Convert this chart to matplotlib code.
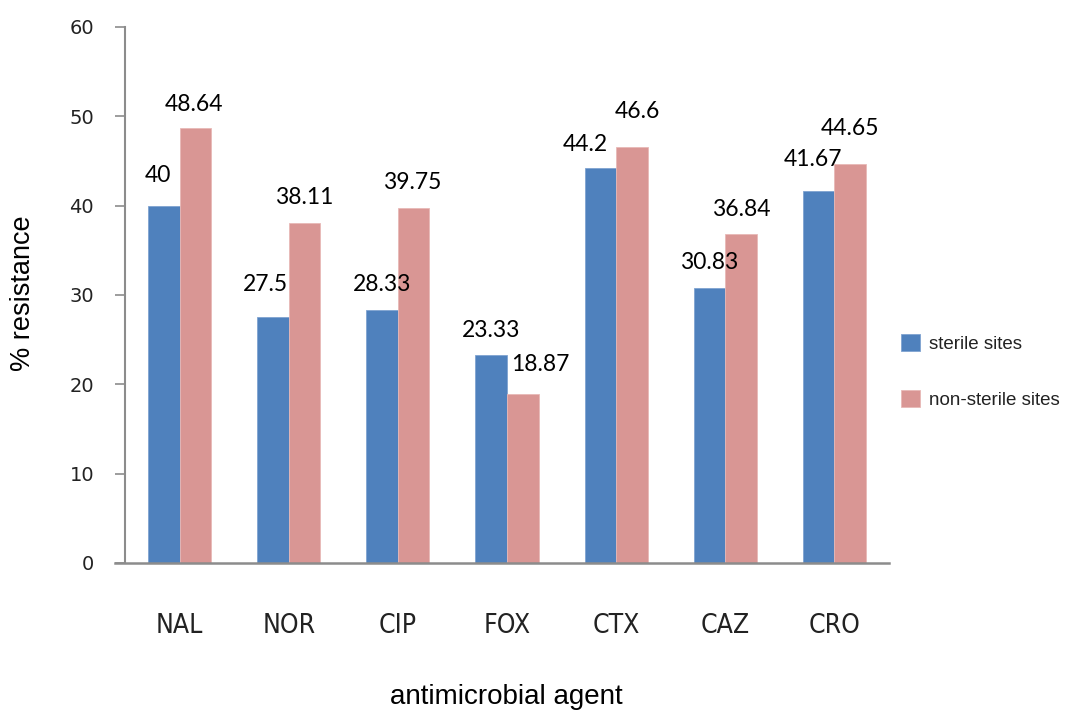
import matplotlib.pyplot as plt
import numpy as np

agentes = ["NAL", "NOR", "CIP", "FOX", "CTX", "CAZ", "CRO"]
esteril = [40, 27.5, 28.33, 23.33, 44.2, 30.83, 41.67]
nao_esteril = [48.64, 38.11, 39.75, 18.87, 46.6, 36.84, 44.65]

# deslocamento dos rotulos (pixels): x, altura acima da barra
desl_esteril = [(-6, 32), (-8, 34), (0, 27), (0, 26), (-15, 25), (0, 27), (-6, 33)]
desl_nao = [(-1, 25), (0, 27), (-1, 27), (18, 31), (6, 37), (0, 26), (0, 37)]

azul = "#4F81BD"
rosa = "#D99694"
cinza = "#8C8C8C"

fig = plt.figure(figsize=(10.65, 7.11), dpi=100)
ax = fig.add_axes([125/1065, 1-563/711, 764/1065, 536/711])

x = np.arange(len(agentes))
w = 0.289
b1 = ax.bar(x - w/2, esteril, w, color=azul, edgecolor="#7FA3D1", linewidth=0.6, label="sterile sites")
b2 = ax.bar(x + w/2, nao_esteril, w, color=rosa, edgecolor="#E8B9B7", linewidth=0.6, label="non-sterile sites")

fonte_rot = ["Lato", "DejaVu Sans"]
for barras, vals, desl in [(b1, esteril, desl_esteril), (b2, nao_esteril, desl_nao)]:
    for r, v, (dx, dy) in zip(barras, vals, desl):
        ax.annotate(str(v), (r.get_x() + r.get_width()/2, v),
                    xytext=(dx, dy - 8), textcoords="offset pixels",
                    ha="center", va="baseline", fontsize=16.5,
                    family=fonte_rot, color="black")

ax.set_xlim(-0.5, 6.5)
ax.set_ylim(0, 60)
ax.set_yticks(range(0, 61, 10))
ax.set_xticks(x)
ax.set_xticklabels(agentes, fontsize=19, family="DejaVu Sans", fontstretch="condensed",
                   color="#222222")

ax.spines["top"].set_visible(False)
ax.spines["right"].set_visible(False)
ax.spines["left"].set_color(cinza)
ax.spines["bottom"].set_color(cinza)
ax.spines["left"].set_linewidth(1.5)
ax.spines["bottom"].set_linewidth(1.8)
ax.spines["bottom"].set_bounds(-0.5 - 10/109.1, 6.5)
ax.tick_params(axis="y", length=7.2, width=1.2, color=cinza, pad=15,
               labelsize=14, labelcolor="#222222", labelfontfamily="DejaVu Sans")
ax.tick_params(axis="x", length=0, pad=36)

fig.text(23/1065, 1-293/711, "% resistance", rotation=90, ha="center", va="center",
         fontsize=19.5, family="Liberation Sans", color="black")
fig.text(506/1065, 1-697/711, "antimicrobial agent", ha="center", va="center",
         fontsize=20, family="Liberation Sans", color="black")

fig.legend(handles=[b1, b2], loc="center left", bbox_to_anchor=(901/1065, 1-371.5/711),
           frameon=False, handlelength=1.0, handleheight=1.0,
           labelspacing=2.0, handletextpad=0.5, borderpad=0, borderaxespad=0,
           prop={"family": "Liberation Sans", "size": 13.5}, labelcolor="#222222")

fig.savefig("out.png", dpi=100)
